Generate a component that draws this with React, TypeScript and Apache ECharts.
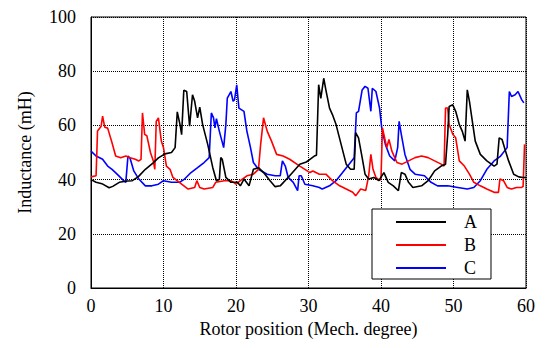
import React, { useEffect, useRef } from "react";
import * as echarts from "echarts";

const xTicks = [0, 10, 20, 30, 40, 50, 60];
const yTicks = [0, 20, 40, 60, 80, 100];
const seriesNames = ["A", "B", "C"];

const seriesA: [number, number][] = [
  [0, 40], [0.7, 39], [1.5, 38.5], [2.5, 37], [3, 37.5], [3.9, 39], [5, 39.5], [5.7, 39.6], [6.5, 41], [7.5, 43.8],
  [8.5, 46], [9.3, 48], [10.2, 49.5], [11.1, 50], [11.6, 51.8], [11.9, 65], [12.3, 60], [12.5, 56.6], [12.8, 73],
  [13.2, 72.5], [13.6, 59.7], [14, 71.3], [14.3, 68.9], [14.7, 62.8], [15, 66.7], [15.4, 60.3], [16.1, 53],
  [16.8, 44.4], [17.3, 39.6], [17.7, 40], [17.9, 48.1], [18.1, 47.5], [18.6, 40.8], [19.3, 39], [20.2, 39],
  [20.6, 37.7], [21.1, 40.2], [21.8, 37.7], [22.4, 43.8], [23.1, 44.4], [23.8, 42.6], [24.7, 39.6], [25.4, 37.4],
  [26.1, 37.7], [27.4, 41.4], [28.8, 45.7], [29.7, 46.5], [30.2, 47.5], [30.8, 48.7], [31.1, 49], [31.4, 75],
  [31.7, 70], [32.1, 77.4], [32.4, 73], [32.9, 66.4], [33.3, 64], [33.8, 60.3], [34.5, 53], [35.2, 45.7],
  [35.8, 43.8], [36.3, 43.8], [36.5, 57.3], [36.9, 55.4], [37.4, 48.1], [37.8, 42], [38.3, 40.2], [39, 40.8],
  [39.7, 39.6], [40.4, 42.6], [41, 39], [41.7, 37.7], [42.4, 35.9], [42.8, 42.6], [43.3, 42], [43.8, 39],
  [44.4, 37.1], [45.6, 37.7], [46.5, 39.6], [47.4, 43.2], [48.3, 45], [48.9, 45.7], [49.2, 56.7], [49.4, 67],
  [49.9, 67.6], [50.3, 65.2], [50.8, 60.3], [51.2, 57.9], [51.6, 54.2], [51.9, 73.1], [52.2, 68.9], [52.6, 61.5],
  [53, 54.2], [53.7, 49.3], [54.6, 46.9], [55.6, 45], [56, 45.7], [56.3, 55.4], [56.7, 54.8], [57.1, 51.2],
  [57.6, 46.9], [58.3, 42], [59, 41], [59.6, 40.8], [60, 40.8],
];

const seriesB: [number, number][] = [
  [0, 41], [0.7, 41.4], [0.9, 57.9], [1.4, 59.7], [1.6, 63.4], [1.9, 59.3], [2.3, 59], [2.9, 53.6], [3.4, 48.7],
  [4.1, 48.1], [4.8, 48.7], [5.4, 48.1], [6.1, 47.5], [6.6, 46.9], [6.9, 47.5], [7.1, 64.6], [7.4, 56.7],
  [7.7, 56.2], [8.2, 50], [8.6, 46.9], [8.8, 43.8], [9.0, 61.5], [9.3, 62.8], [9.7, 54.2], [10, 51.8],
  [10.4, 45], [10.9, 43.8], [11.3, 40.8], [12.5, 38.3], [13.4, 36.5], [14.3, 37.1], [14.6, 39.6], [15, 37.1],
  [15.6, 36.5], [16.8, 37.1], [17.2, 39], [18.4, 39.6], [19.3, 39.6], [20, 38.3], [20.6, 39.6], [21.5, 41.4],
  [22.4, 42], [23.1, 43.8], [23.4, 53], [23.8, 62.8], [24.3, 57.9], [24.9, 54.2], [25.6, 49.3], [26.5, 48.7],
  [27.4, 47.5], [28.8, 45], [30.2, 42.6], [30.6, 43.2], [31.5, 42], [32.4, 42], [33.3, 39.6], [34.3, 37.7],
  [35.2, 36.5], [36.1, 35.3], [36.5, 34], [37.2, 36.5], [37.9, 36], [38.3, 41.4], [38.6, 49.3], [38.9, 43.8],
  [39.3, 40.8], [39.8, 39.6], [40, 40.5], [40.2, 59.1], [40.5, 55.4], [40.8, 51.8], [41.1, 54.8], [41.5, 50.5],
  [42.2, 46.3], [42.9, 45.7], [43.8, 46.9], [44.7, 48.1], [45.6, 48.7], [46.5, 48.1], [47.4, 46.9], [48.3, 45.7],
  [48.7, 45], [48.9, 66.4], [49.2, 66.4], [49.4, 60.3], [49.9, 56.7], [50.3, 55.4], [50.8, 46.9], [51.5, 45],
  [52.2, 42], [52.8, 39], [53.7, 37.7], [54.6, 36.5], [55.6, 35.3], [56.2, 35.3], [56.4, 40.2], [56.9, 39.6],
  [57.4, 37.1], [58, 36.5], [58.7, 37.1], [59.4, 37.1], [59.6, 37.5], [59.8, 53],
];

const seriesC: [number, number][] = [
  [0, 50.5], [0.7, 48.7], [1.6, 47.5], [2.3, 45], [2.9, 43.8], [3.6, 42], [4.5, 39.6], [4.8, 39], [5.1, 48.7],
  [5.4, 47.8], [5.9, 43.2], [6.6, 40.2], [7.5, 37.7], [8.4, 37.7], [9.3, 38.3], [10, 39.6], [11.1, 39], [12.2, 39],
  [12.9, 40.2], [13.8, 42.6], [14.7, 44.4], [15.6, 46.3], [16.3, 48.1], [16.6, 64.6], [16.9, 62.8], [17.1, 59.1],
  [17.3, 62.5], [17.7, 57.9], [18.3, 51.8], [18.6, 60.3], [18.8, 70.1], [19.3, 72.5], [19.6, 68.9], [19.8, 69.5],
  [20.1, 75], [20.4, 66.4], [21.1, 65.2], [21.5, 57.9], [22, 51.8], [22.4, 46.3], [23.1, 43.8], [24.3, 42],
  [25.4, 41.4], [26.1, 41.4], [26.4, 46.9], [26.8, 45], [27.2, 40.8], [27.9, 39], [28.5, 35.9], [28.7, 41.4],
  [29, 41.4], [29.5, 38.3], [30.6, 37.7], [31.5, 37.1], [31.9, 36.5], [32.9, 37.7], [33.8, 39.6], [34.7, 42.6],
  [35.6, 45.7], [36.3, 48.1], [36.6, 64.6], [36.9, 65.2], [37.4, 73.1], [37.8, 74.4], [38.2, 73.7], [38.6, 65.2],
  [38.8, 73.7], [39.3, 72.5], [39.8, 66.4], [40.1, 59.1], [40.6, 53], [41.2, 48.7], [41.9, 46.9], [42.3, 51.8],
  [42.5, 61.5], [42.8, 56.7], [43.3, 49.3], [44, 43.8], [44.7, 42], [46, 41.4], [46.9, 39], [47.8, 37.7],
  [49.2, 37.7], [50.6, 37.1], [51.9, 36.5], [52.8, 37.1], [53.7, 39.6], [54.6, 43.8], [55.6, 46.9], [56.5, 48.7],
  [57.4, 51.8], [57.7, 72.5], [58, 70.7], [58.5, 71.3], [58.9, 72.5], [59.4, 69.5], [59.7, 68.3],
];

const colors = ["#000000", "#ff0000", "#0000ff"];
const FONT = "Liberation Serif";

export default function App() {
  const ref = useRef<HTMLDivElement>(null);
  useEffect(() => {
    if (!ref.current) return;
    const chart = echarts.init(ref.current, null, { renderer: "svg" });
    const dataSets = [seriesA, seriesB, seriesC];
    chart.setOption({
      animation: false,
      grid: {
        left: 77,
        right: 32,
        top: 7,
        bottom: 68,
        show: true,
        borderColor: "#000",
        borderWidth: 1,
      },
      legend: {
        orient: "vertical",
        left: 364,
        top: 201,
        icon: "rect",
        itemWidth: 50,
        itemHeight: 2,
        itemGap: 5,
        padding: [4, 14, 2, 24],
        backgroundColor: "#fff",
        borderColor: "#000",
        borderWidth: 1,
        data: seriesNames,
        textStyle: { fontFamily: FONT, fontSize: 18, lineHeight: 17, color: "#000", padding: [0, 0, 0, 13] },
      },
      xAxis: {
        type: "value",
        min: xTicks[0],
        max: xTicks[xTicks.length - 1],
        interval: 10,
        name: "Rotor position (Mech. degree)",
        nameLocation: "middle",
        nameGap: 31,
        nameTextStyle: { fontFamily: FONT, fontSize: 18, color: "#000" },
        axisLine: { show: true, lineStyle: { color: "#000", width: 1 } },
        axisTick: { show: false },
        axisLabel: { fontFamily: FONT, fontSize: 18, color: "#000", margin: 9 },
        splitLine: { show: true, lineStyle: { color: "#000", type: [1, 1], width: 1 } },
      },
      yAxis: {
        type: "value",
        min: yTicks[0],
        max: yTicks[yTicks.length - 1],
        interval: 20,
        name: "Inductance (mH)",
        nameLocation: "middle",
        nameGap: 57,
        nameTextStyle: { fontFamily: FONT, fontSize: 18, color: "#000" },
        axisLine: { show: true, lineStyle: { color: "#000", width: 1 } },
        axisTick: { show: false },
        axisLabel: { fontFamily: FONT, fontSize: 18, color: "#000", margin: 15 },
        splitLine: { show: true, lineStyle: { color: "#000", type: [1, 1], width: 1 } },
      },
      series: seriesNames.map((name, i) => ({
        name,
        type: "line",
        data: dataSets[i],
        symbol: "none",
        showSymbol: false,
        lineStyle: { color: colors[i], width: 1.6 },
        itemStyle: { color: colors[i] },
        z: 3 - i,
      })),
    });
    return () => chart.dispose();
  }, []);
  return <div ref={ref} style={{ width: 550, height: 348 }} />;
}
